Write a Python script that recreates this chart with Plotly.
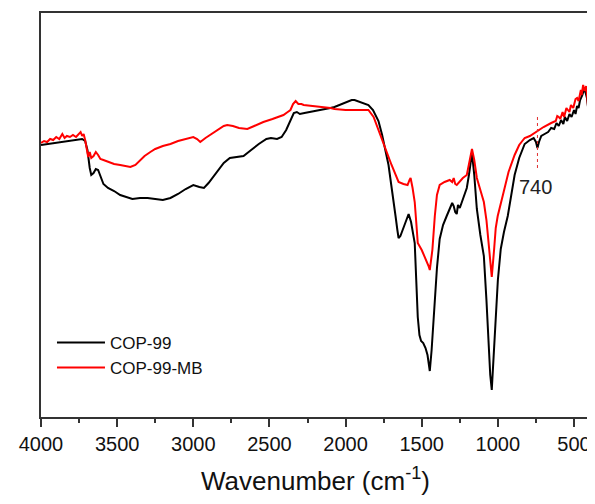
import plotly.graph_objects as go

# Black curve: COP-99 (wavenumber cm-1, transmittance in arbitrary units)
cop99_wn = [4000, 3960, 3920, 3880, 3840, 3800, 3760, 3730, 3710, 3695, 3680, 3670, 3655, 3640, 3625, 3610,
            3590, 3560, 3520, 3480, 3440, 3400, 3350, 3300, 3250, 3200, 3150, 3100, 3050, 3000, 2960, 2930,
            2900, 2850, 2800, 2760, 2700, 2670, 2620, 2570, 2520, 2490, 2450, 2420, 2390, 2360, 2340, 2320,
            2300, 2270, 2200, 2150, 2100, 2073, 2000, 1960, 1941, 1900, 1850, 1820, 1800, 1784, 1760, 1740,
            1718, 1700, 1685, 1672, 1660, 1652, 1640, 1620, 1600, 1586, 1570, 1556, 1546, 1536, 1526, 1515,
            1504, 1490, 1475, 1462, 1447, 1435, 1425, 1414, 1400, 1382, 1360, 1336, 1315, 1300, 1290, 1280,
            1270, 1262, 1250, 1237, 1220, 1204, 1190, 1170, 1155, 1138, 1115, 1092, 1075, 1060, 1050, 1040,
            1028, 1014, 1000, 981, 960, 935, 910, 890, 860, 824, 790, 765, 750, 740, 730, 715,
            693, 670, 650, 630, 615, 600, 585, 570, 560, 545, 530, 516, 500, 490, 480, 470,
            460, 445, 436, 425, 415, 405, 398]
cop99_t = [272, 273, 274, 275, 276, 277, 278, 278, 276, 267, 249, 242, 244, 248, 247, 240,
           233, 229, 226, 222, 220, 218, 219, 219, 218, 217, 219, 223, 228, 232, 230, 229,
           234, 244, 254, 259, 260, 261, 267, 273, 278, 279, 278, 280, 287, 297, 304, 305,
           303, 304, 306, 307, 309, 310, 315, 317, 317, 315, 312, 307, 301, 296, 282, 267,
           252, 232, 212, 201, 187, 179, 181, 189, 199, 203, 195, 182, 174, 137, 100, 82,
           76, 74, 69, 62, 46, 67, 92, 117, 149, 178, 192, 201, 209, 214, 211, 205,
           203, 212, 209, 215, 221, 229, 242, 264, 242, 208, 182, 161, 117, 66, 42, 27,
           57, 100, 137, 168, 185, 201, 222, 242, 259, 273, 277, 279, 275, 269, 275, 281,
           283, 285, 289, 288, 294, 291, 297, 293, 300, 296, 303, 300, 307, 303, 311, 309,
           317, 322, 327, 325, 319, 305, 297]

# Red curve: COP-99-MB
mb_wn = [4000, 3980, 3960, 3940, 3920, 3900, 3880, 3860, 3845, 3830, 3810, 3790, 3770, 3750, 3740, 3730,
         3720, 3710, 3700, 3690, 3680, 3670, 3655, 3640, 3625, 3610, 3590, 3560, 3545, 3520, 3480, 3440,
         3413, 3380, 3350, 3320, 3282, 3250, 3200, 3150, 3100, 3050, 3000, 2975, 2954, 2920, 2880, 2840,
         2800, 2777, 2740, 2700, 2645, 2600, 2540, 2480, 2440, 2408, 2380, 2362, 2345, 2328, 2310, 2290,
         2275, 2200, 2100, 2073, 2000, 1900, 1850, 1816, 1790, 1764, 1730, 1698, 1670, 1652, 1620, 1593,
         1580, 1573, 1560, 1546, 1536, 1526, 1500, 1470, 1455, 1447, 1430, 1414, 1400, 1382, 1350, 1316,
         1300, 1290, 1280, 1270, 1250, 1230, 1204, 1190, 1170, 1155, 1138, 1115, 1092, 1075, 1060, 1050,
         1040, 1025, 1014, 1001, 985, 962, 930, 890, 860, 824, 790, 760, 740, 700, 650, 620,
         610, 600, 590, 575, 565, 550, 540, 530, 520, 505, 490, 480, 470, 455, 450, 440,
         430, 420, 412, 405, 398]
mb_t = [274, 276, 275, 278, 277, 280, 278, 283, 279, 281, 280, 282, 280, 284, 285, 281,
        283, 277, 269, 260, 265, 259, 261, 265, 262, 258, 257, 255, 254, 253, 252, 251,
        250, 252, 257, 261, 265, 268, 271, 273, 276, 278, 280, 278, 275, 279, 283, 287,
        291, 292, 291, 289, 288, 291, 295, 298, 300, 302, 305, 307, 313, 316, 313, 313,
        312, 311, 309, 308, 307, 307, 307, 300, 290, 279, 265, 252, 241, 235, 233, 232,
        237, 239, 229, 215, 195, 174, 167, 157, 151, 147, 167, 201, 222, 232, 235, 237,
        235, 239, 233, 232, 236, 239, 242, 252, 268, 257, 239, 227, 215, 197, 174, 155,
        140, 167, 189, 201, 212, 225, 245, 262, 272, 279, 281, 284, 286, 290, 294, 296,
        301, 300, 298, 305, 300, 309, 307, 305, 312, 309, 318, 319, 316, 327, 322, 332,
        326, 331, 318, 305, 305]

x_ticks = [4000, 3500, 3000, 2500, 2000, 1500, 1000, 500]
marker_wn = 740
marker_range = [249, 300]
marker_label = "740"

fig = go.Figure()
fig.add_trace(go.Scatter(x=cop99_wn, y=cop99_t, mode="lines", name="COP-99",
                         line=dict(color="#000000", width=2)))
fig.add_trace(go.Scatter(x=mb_wn, y=mb_t, mode="lines", name="COP-99-MB",
                         line=dict(color="#ff0000", width=2)))

fig.add_shape(type="line", xref="x", yref="y", x0=marker_wn, x1=marker_wn,
              y0=marker_range[0], y1=marker_range[1],
              line=dict(color="#e03030", width=1, dash="dot"))
fig.add_annotation(x=756, y=230, xref="x", yref="y", text=marker_label, showarrow=False,
                   font=dict(size=20, color="#222222"))

fig.update_layout(
    width=587, height=488,
    margin=dict(l=33, r=5, t=5, b=79, autoexpand=False),
    paper_bgcolor="white", plot_bgcolor="white",
    font=dict(family="Arial, Liberation Sans, sans-serif", color="#111111"),
    showlegend=True,
    legend=dict(x=0.02, y=0.228, xanchor="left", yanchor="top",
                font=dict(size=17, color="#111111"), bgcolor="rgba(0,0,0,0)",
                itemwidth=48, tracegroupgap=0),
    xaxis=dict(
        range=[4000, 395], tickvals=x_ticks, ticktext=[str(v) for v in x_ticks],
        ticks="outside", ticklen=8, tickwidth=1.5, tickcolor="#333333",
        showline=True, linecolor="#333333", linewidth=1.5, mirror=True,
        showgrid=False, zeroline=False,
        tickfont=dict(size=20, color="#111111"),
        minor=dict(dtick=250, tick0=0, ticks="outside", ticklen=4, tickwidth=1.5, tickcolor="#333333"),
        title=dict(text="Wavenumber (cm<sup>-1</sup>)", font=dict(size=26, color="#111111"), standoff=18),
    ),
    yaxis=dict(
        range=[0, 404], showticklabels=False, ticks="",
        showline=True, linecolor="#333333", linewidth=1.5, mirror=True,
        showgrid=False, zeroline=False,
    ),
)

fig.write_html("out.html")
